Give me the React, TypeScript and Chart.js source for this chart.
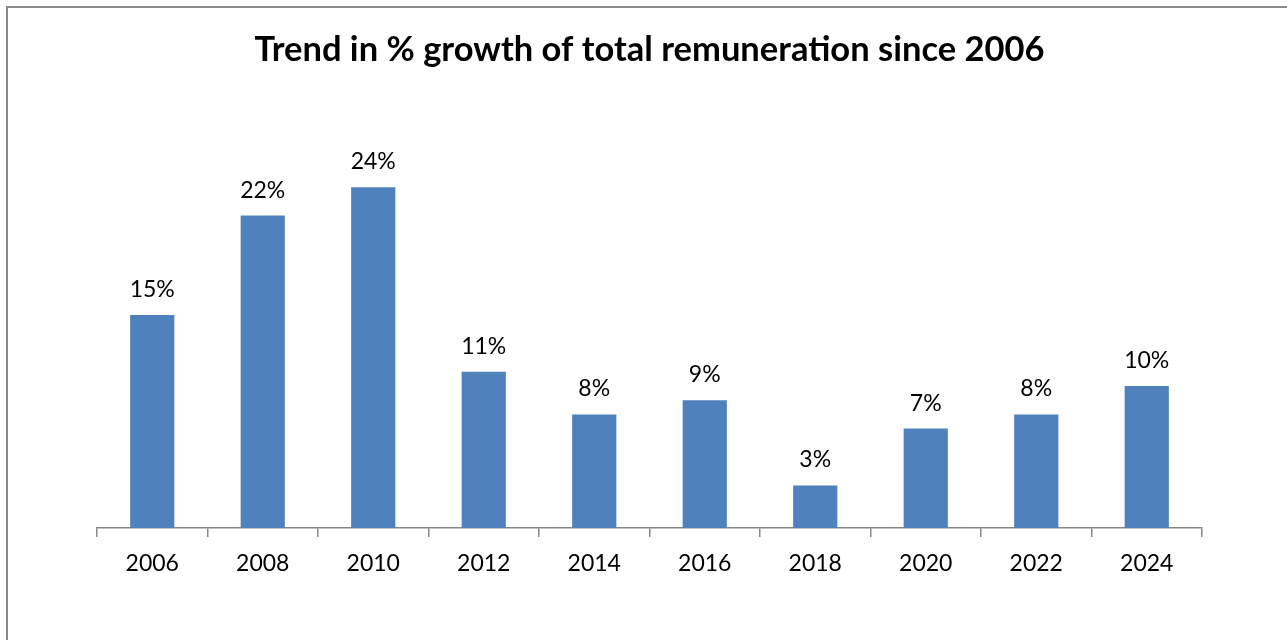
import React, { useEffect, useRef } from "react";
import { Chart, registerables } from "chart.js";

Chart.register(...registerables);

const categories: string[] = ["2006", "2008", "2010", "2012", "2014", "2016", "2018", "2020", "2022", "2024"];
const growthValues: number[] = [15, 22, 24, 11, 8, 9, 3, 7, 8, 10];
const chartTitle = "Trend in % growth of total remuneration since 2006";

const BAR_COLOR = "#4F81BD";
const AXIS_COLOR = "#868686";
const FONT = "Lato, 'Open Sans', sans-serif";

const valueLabelPlugin = {
  id: "valueLabels",
  afterDatasetsDraw(chart: any) {
    const { ctx } = chart;
    const meta = chart.getDatasetMeta(0);
    const data = chart.data.datasets[0].data as number[];
    ctx.save();
    ctx.font = `23px ${FONT}`;
    ctx.fillStyle = "#000";
    ctx.textAlign = "center";
    ctx.textBaseline = "alphabetic";
    meta.data.forEach((bar: any, i: number) => {
      ctx.fillText(`${data[i]}%`, bar.x, bar.y - 18);
    });
    ctx.restore();
  },
};

export default function App() {
  const canvasRef = useRef<HTMLCanvasElement | null>(null);

  useEffect(() => {
    if (!canvasRef.current) return;
    const chart = new Chart(canvasRef.current, {
      type: "bar",
      data: {
        labels: categories,
        datasets: [
          {
            data: growthValues,
            backgroundColor: BAR_COLOR,
            borderWidth: 0,
            barPercentage: 0.4,
            categoryPercentage: 1,
          },
        ],
      },
      options: {
        animation: false,
        responsive: false,
        maintainAspectRatio: false,
        layout: { padding: { left: 97, right: 85, top: 0, bottom: 0 } },
        plugins: {
          legend: { display: false },
          tooltip: { enabled: false },
          title: {
            display: true,
            text: chartTitle,
            color: "#000",
            font: { family: FONT, size: 34.5, weight: "bold", lineHeight: 1.2 },
            padding: { top: 29, bottom: 31.6 },
          },
        },
        scales: {
          x: {
            offset: true,
            border: { display: true, color: AXIS_COLOR, width: 1.5 },
            grid: {
              display: true,
              offset: true,
              drawOnChartArea: false,
              drawTicks: true,
              tickLength: 9,
              color: AXIS_COLOR,
              lineWidth: 1.5,
            },
            ticks: {
              color: "#000",
              font: { family: FONT, size: 23 },
              padding: 13,
              maxRotation: 0,
            },
            afterFit(axis: any) {
              axis.height = 112;
            },
          },
          y: {
            display: false,
            min: 0,
            max: 30,
          },
        },
      },
      plugins: [valueLabelPlugin],
    });
    return () => chart.destroy();
  }, []);

  return (
    <div style={{ position: "fixed", left: 0, top: 0, width: 1287, height: 640, overflow: "hidden", background: "#fff" }}>
      <div
        style={{
          position: "absolute",
          left: 6,
          top: 6,
          width: 1400,
          height: 700,
          borderLeft: "2px solid #8a8a8a",
          borderTop: "2px solid #8a8a8a",
          boxSizing: "border-box",
        }}
      />
      <canvas ref={canvasRef} width={1287} height={640} style={{ position: "absolute", left: 0, top: 0, width: 1287, height: 640 }} />
    </div>
  );
}
